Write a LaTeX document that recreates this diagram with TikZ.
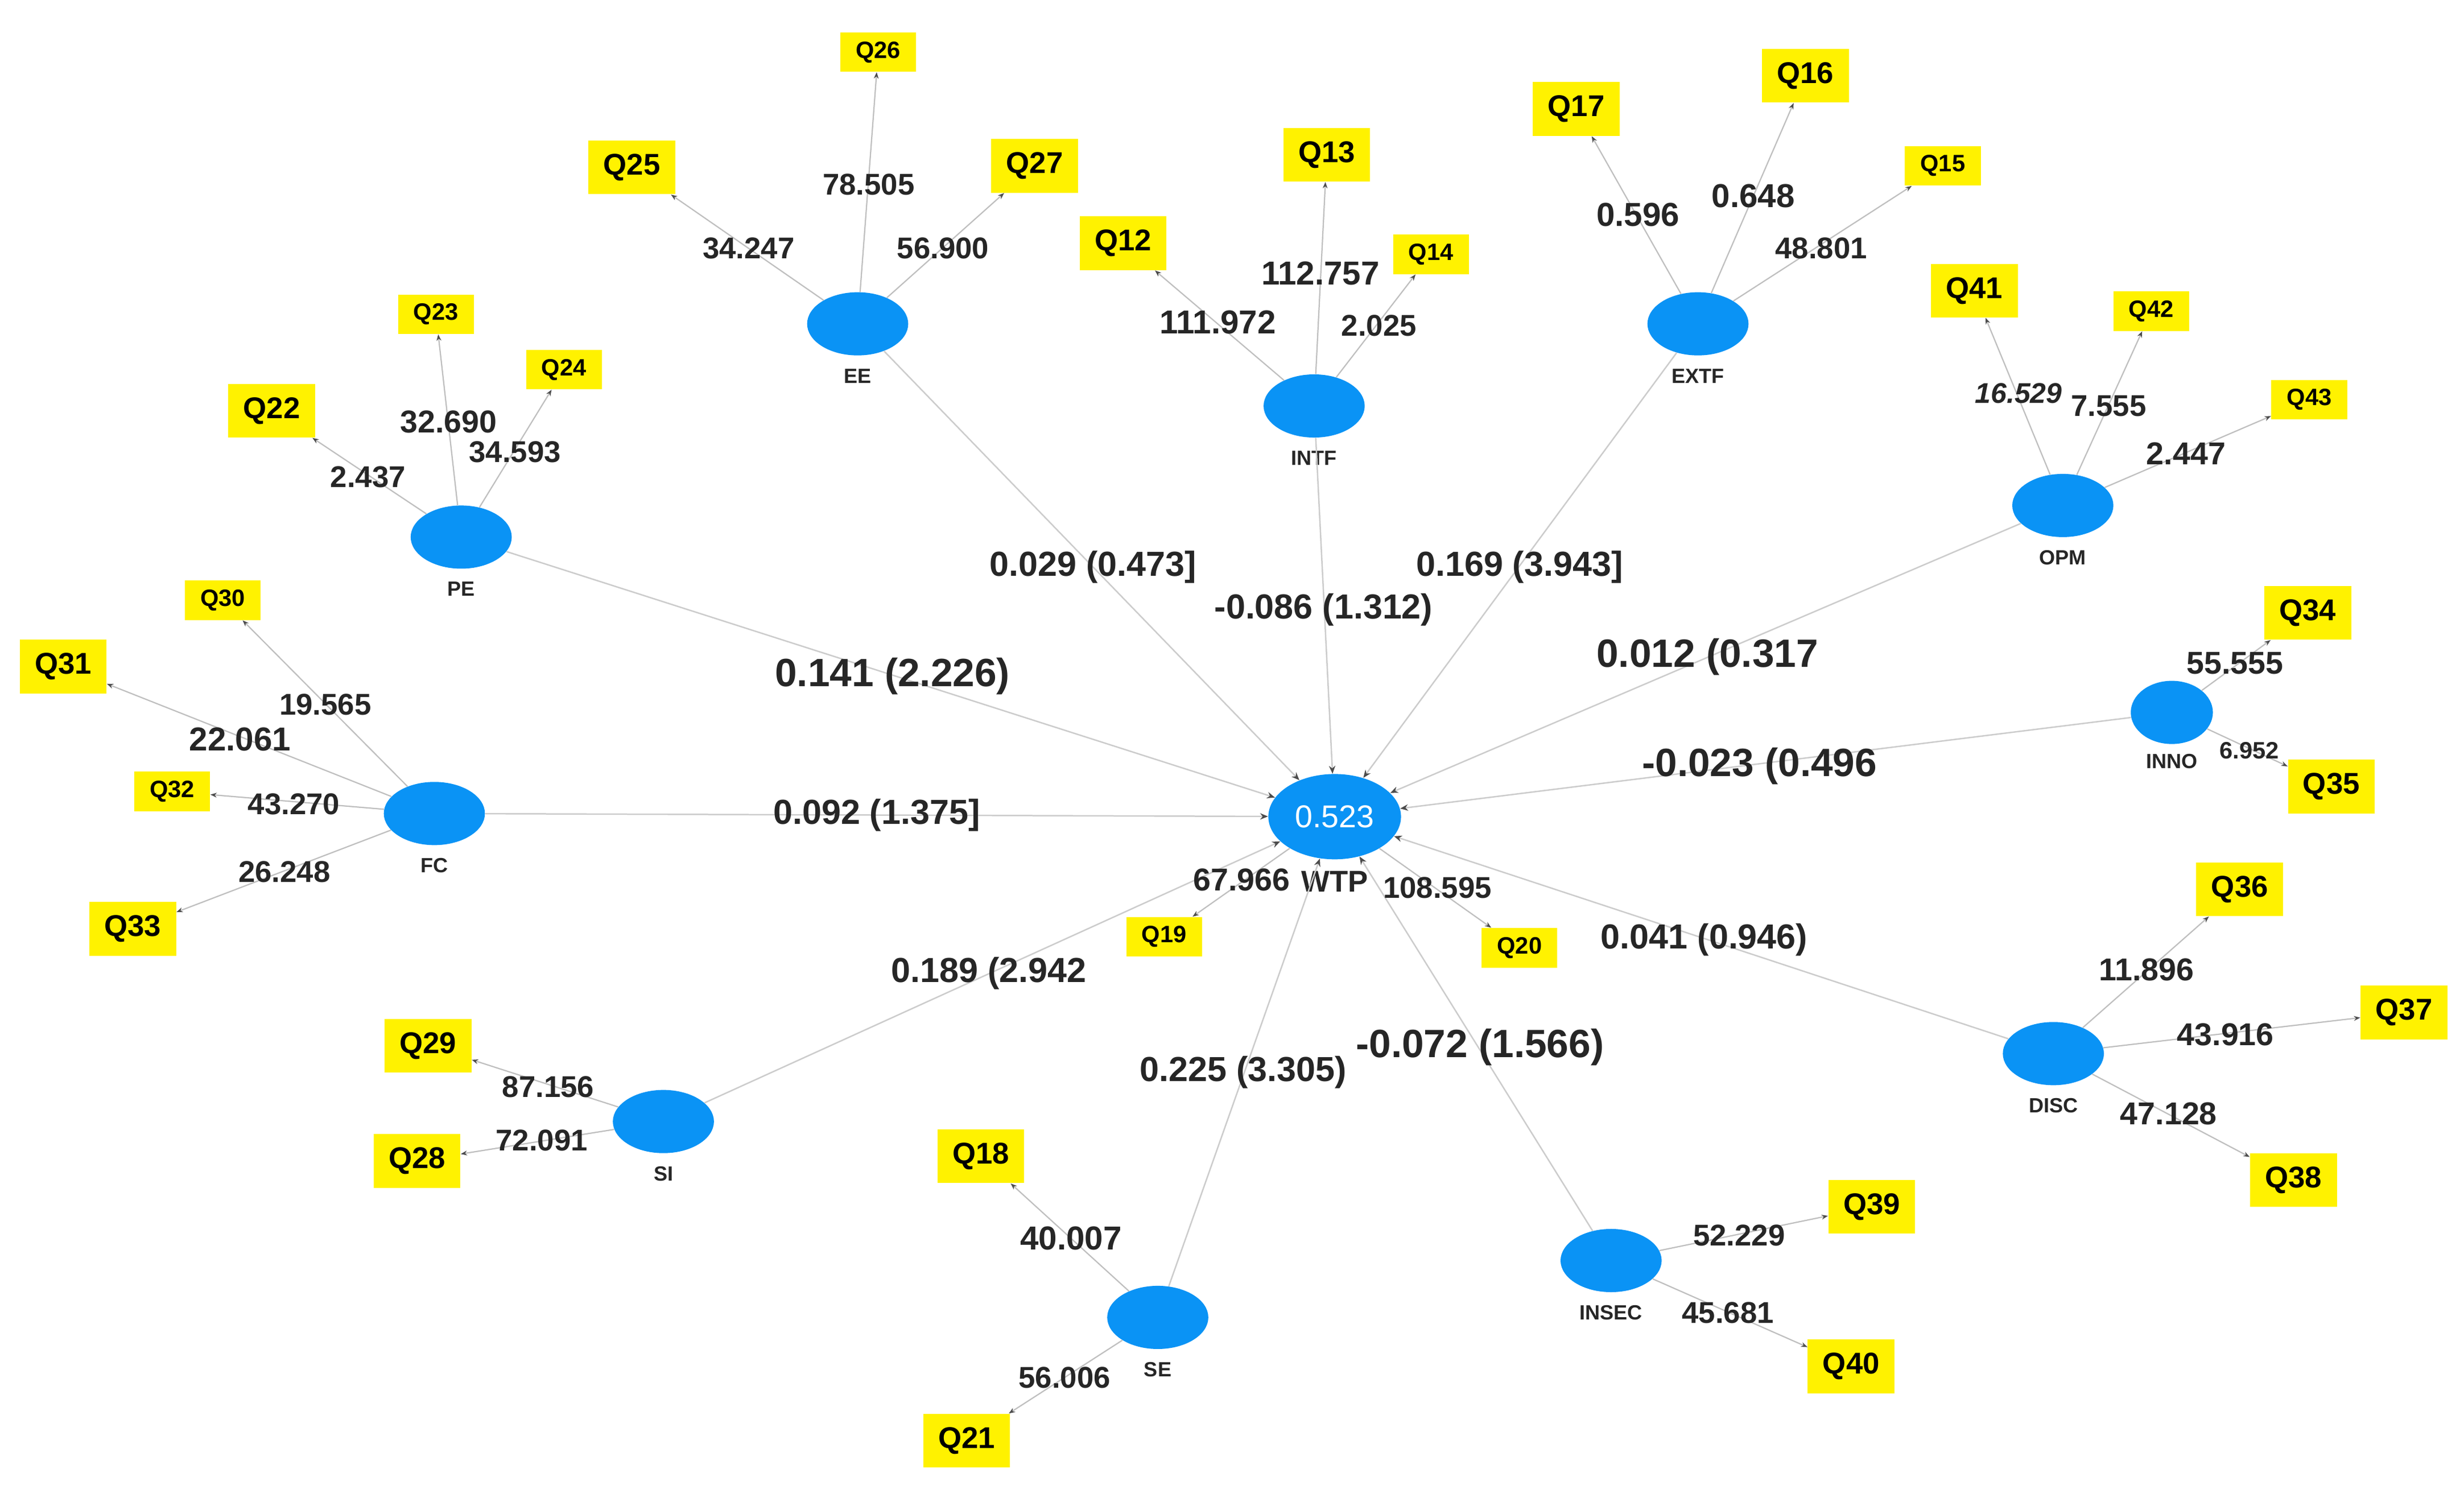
\documentclass[tikz,border=0pt]{standalone}
\usepackage{fontspec}
\setmainfont{Liberation Sans}
\usetikzlibrary{arrows.meta,shapes.geometric}
\definecolor{cblue}{HTML}{0A93F5}
\definecolor{qy}{HTML}{FFF200}
\newcommand{\fs}[1]{\bfseries\fontsize{#1}{#1}\selectfont}
\begin{document}
\begin{tikzpicture}[x=1pt,y=-1pt,
 lv/.style={ellipse,fill=cblue,minimum width=64pt,minimum height=40pt,inner sep=0},
 lvcap/.style={font=\fs{13},text=black!85},
 q/.style={fill=qy,minimum width=55pt,minimum height=34pt,inner sep=0,font=\fs{19}},
 qs/.style={fill=qy,minimum width=48pt,minimum height=25pt,inner sep=0,font=\fs{15}},
 ld/.style={font=\fs{19},text=black!85},
 pl/.style={font=\fs{22},text=black!85},
 pb/.style={font=\fs{25},text=black!85},
 ed/.style={draw=black!25,line width=0.8pt,-{Stealth[length=4pt,width=3pt,black!70]}},
 st/.style={draw=black!20,line width=0.9pt,-{Stealth[length=5pt,width=4pt,black!70]}}]
\useasboundingbox (0,0) rectangle (1560,940);
% constructs
\node[lv,minimum width=84pt,minimum height=54pt,text=white,font=\fontsize{20}{20}\selectfont] (WTP) at (845,517) {0.523};
\node[lvcap,font=\fs{19}] (WTPl) at (845,558) {WTP};
\foreach \n/\x/\y in {PE/292/340,EE/543/205,INTF/832/257,EXTF/1075/205,OPM/1306/320,FC/275/515,SI/420/710,SE/733/834,INSEC/1020/798,DISC/1300/667}{
 \node[lv] (\n) at (\x,\y) {};
 \node[lvcap] (\n l) at (\x,\y+33) {\n};}
\node[lv,minimum width=52pt] (INNO) at (1375,451) {};
\node[lvcap] (INNOl) at (1375,482) {INNO};
% indicators
\foreach \n/\x/\y in {Q25/400/106,Q27/655/105,Q13/840/98,Q12/711/154,Q17/998/69,Q16/1143/48,Q41/1250/184,Q22/172/260,Q31/40/422,Q33/84/588,Q34/1461/388,Q35/1476/498,Q36/1418/563,Q37/1522/641,Q38/1452/747,Q39/1185/764,Q40/1172/865,Q29/271/662,Q28/264/735,Q18/621/732,Q21/612/912}
 \node[q] (\n) at (\x,\y) {\n};
\foreach \n/\x/\y in {Q26/556/33,Q14/906/161,Q15/1230/105,Q42/1362/197,Q43/1462/253,Q23/276/199,Q24/357/234,Q30/141/380,Q32/109/501,Q19/737/593,Q20/962/600}
 \node[qs] (\n) at (\x,\y) {\n};
% loadings
\foreach \c/\q in {EE/Q25,EE/Q26,EE/Q27,INTF/Q12,INTF/Q13,INTF/Q14,EXTF/Q17,EXTF/Q16,EXTF/Q15,OPM/Q41,OPM/Q42,OPM/Q43,PE/Q22,PE/Q23,PE/Q24,FC/Q30,FC/Q31,FC/Q32,FC/Q33,INNO/Q34,INNO/Q35,DISC/Q36,DISC/Q37,DISC/Q38,INSEC/Q39,INSEC/Q40,SE/Q18,SE/Q21,SI/Q29,SI/Q28,WTP/Q19,WTP/Q20}
 \draw[ed] (\c) -- (\q);
% structural
\foreach \c in {PE,EE,INTF,EXTF,OPM,INNO,FC,SI,SE,INSEC,DISC}
 \draw[st] (\c) -- (WTP);
% loading labels
\node[ld] at (474,157) {34.247};
\node[ld] at (550,117) {78.505};
\node[ld] at (597,157) {56.900};
\node[ld,font=\fs{21}] at (771,204) {111.972};
\node[ld,font=\fs{21}] at (836,173) {112.757};
\node[ld] at (873,206) {2.025};
\node[ld,font=\fs{21}] at (1037,136) {0.596};
\node[ld,font=\fs{21}] at (1110,124) {0.648};
\node[ld] at (1153,157) {48.801};
\node[ld,font=\bfseries\itshape\fontsize{18}{18}\selectfont] at (1278,249) {16.529};
\node[ld] at (1335,257) {7.555};
\node[ld,font=\fs{20}] at (1384,287) {2.447};
\node[ld] at (233,302) {2.437};
\node[ld,font=\fs{20}] at (284,267) {32.690};
\node[ld] at (326,286) {34.593};
\node[ld] at (206,446) {19.565};
\node[ld,font=\fs{21}] at (152,468) {22.061};
\node[ld] at (186,509) {43.270};
\node[ld] at (180,552) {26.248};
\node[ld,font=\fs{20}] at (1415,420) {55.555};
\node[ld,font=\fs{15}] at (1424,475) {6.952};
\node[ld,font=\fs{20}] at (1359,614) {11.896};
\node[ld,font=\fs{20}] at (1409,655) {43.916};
\node[ld,font=\fs{20}] at (1373,705) {47.128};
\node[ld] at (1101,782) {52.229};
\node[ld] at (1094,831) {45.681};
\node[ld,font=\fs{21}] at (678,784) {40.007};
\node[ld] at (674,872) {56.006};
\node[ld] at (347,688) {87.156};
\node[ld] at (343,722) {72.091};
\node[ld,font=\fs{20}] at (786,557) {67.966};
\node[ld] at (910,562) {108.595};
% path labels
\node[pl] at (692,359) {0.029 (0.473]};
\node[pl] at (838,386) {-0.086 (1.312)};
\node[pl] at (962,359) {0.169 (3.943]};
\node[pb] at (565,428) {0.141 (2.226)};
\node[pb] at (1081,416) {0.012 (0.317};
\node[pb] at (1114,485) {-0.023 (0.496};
\node[pl] at (555,516) {0.092 (1.375]};
\node[pl] at (626,616) {0.189 (2.942};
\node[pl] at (787,679) {0.225 (3.305)};
\node[pb] at (937,663) {-0.072 (1.566)};
\node[pl] at (1079,595) {0.041 (0.946)};
\end{tikzpicture}
\end{document}
